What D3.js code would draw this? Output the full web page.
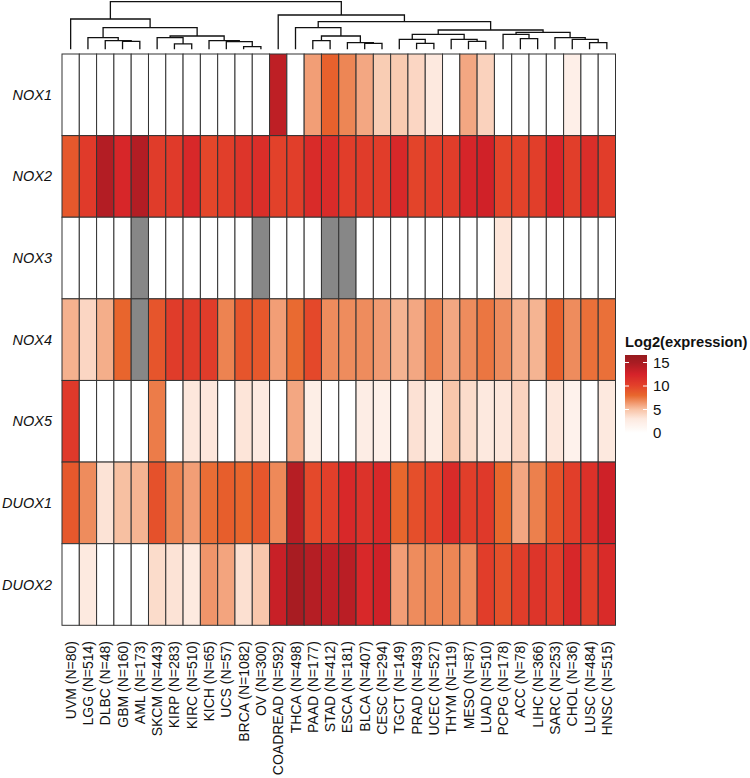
<!DOCTYPE html>
<html>
<head>
<meta charset="utf-8">
<script src="https://cdn.jsdelivr.net/npm/d3@7"></script>
<style>
  html, body { margin: 0; padding: 0; background: #fff; }
  svg { display: block; }
  text { font-family: Arial, "Liberation Sans", Helvetica, sans-serif; }
</style>
</head>
<body>
<svg id="chart" width="750" height="778"></svg>
<script>
// ---------------- DATA ----------------
const cancers = ["UVM","LGG","DLBC","GBM","AML","SKCM","KIRP","KIRC","KICH","UCS","BRCA","OV",
  "COADREAD","THCA","PAAD","STAD","ESCA","BLCA","CESC","TGCT","PRAD","UCEC","THYM","MESO",
  "LUAD","PCPG","ACC","LIHC","SARC","CHOL","LUSC","HNSC"];
const sampleN = [80,514,48,160,173,443,283,510,65,57,1082,300,
  592,498,177,412,181,407,294,149,493,527,119,87,
  510,178,78,366,253,36,484,515];
const genes = ["NOX1","NOX2","NOX3","NOX4","NOX5","DUOX1","DUOX2"];

// log2 expression per gene, in column order above (null = NA)
const NOX1 = [0,0,0,0,0,0,0,0,0,0,0,0, 13.8,0,6.2,8.3,7.0,5.9,4.5,4.6,4.0,3.0,0,5.9, 4.2,0,0,0,0,2.2,0,0];
const NOX2 = [8.8,10.6,14.4,12.2,14.4,10.5,10.6,12.0,9.8,10.3,11.0,11.6, 10.1,10.3,11.8,11.8,10.4,10.5,10.4,12.0,9.9,10.3,10.4,12.3, 12.8,9.9,10.0,10.3,12.2,10.3,11.6,10.4];
const NOX3 = [0,0,0,0,null,0,0,0,0,0,0,null, 0,0,0,null,null,0,0,0,0,0,0,0, 0,3.2,0,0,0,0,0,0];
const NOX4 = [5.6,4.0,5.7,8.1,null,9.0,10.5,10.5,10.5,7.1,9.0,8.8, 6.2,7.9,9.7,6.8,6.8,6.8,6.3,5.5,5.9,7.1,5.9,6.8, 7.5,6.8,5.5,5.5,8.3,6.8,7.7,7.7];
const NOX5 = [10.7,0,0,0,0,7.3,0,3.1,3.1,0,3.2,2.8, 0,5.9,2.3,0,0,2.4,2.1,0,3.4,2.5,4.8,3.7, 3.0,3.1,4.1,0,3.1,1.8,0,3.0];
const DUOX1 = [8.8,6.8,3.3,5.1,5.5,9.2,7.1,6.2,7.8,8.5,8.1,8.9, 6.9,14.2,9.6,10.2,12.0,11.2,12.0,8.0,9.3,10.0,11.8,10.3, 10.7,8.0,5.9,7.2,9.1,10.3,11.3,12.9];
const DUOX2 = [0,2.9,0,0,0,3.7,3.3,2.9,6.5,6.0,3.5,4.8, 13.2,15.0,14.3,13.7,14.0,12.0,12.8,6.2,6.8,7.0,7.0,6.8, 10.4,9.2,10.4,11.0,10.3,12.1,10.3,11.8];
const geneValues = [NOX1, NOX2, NOX3, NOX4, NOX5, DUOX1, DUOX2];

// column dendrogram: [left, right, height]; strings = leaves, numbers = earlier merges
const merges = [
  ["GBM","AML",24],      // 0
  ["DLBC",0,26],         // 1
  ["LGG",1,35],          // 2
  ["KIRP","KIRC",16],    // 3
  ["SKCM",3,35],         // 4
  ["BRCA","OV",8],       // 5
  ["UCS",5,23],          // 6
  ["KICH",6,26],         // 7
  [4,7,40],              // 8
  [2,8,65],              // 9
  ["UVM",9,91],          // 10
  ["PAAD","STAD",26],    // 11
  ["BLCA","CESC",18],    // 12
  ["ESCA",12,20],        // 13
  [11,13,40],            // 14
  ["THCA",14,65],        // 15
  ["PRAD","UCEC",18],    // 16
  ["TGCT",16,30],        // 17
  ["MESO","LUAD",24],    // 18
  ["THYM",18,30],        // 19
  [17,19,45],            // 20
  ["ACC","LIHC",32],     // 21
  ["PCPG",21,45],        // 22
  ["LUSC","HNSC",20],    // 23
  ["CHOL",23,30],        // 24
  ["SARC",24,35],        // 25
  [22,25,51],            // 26
  [20,26,58],            // 27
  [15,27,83],            // 28
  ["COADREAD",28,103],   // 29
  [10,29,143]            // 30
];

// colour legend
const legendTicks = [0,5,10,15];
const colorStops = [0, 3, 5, 8, 10, 12.5, 15, 16.6];
const colorRange = ["#ffffff","#fde9df","#f8c3a6","#e8672d","#e3422a","#d52229","#a81c22","#961a1e"];

// ---------------- DRAW ----------------
const svg = d3.select("#chart");
const hmLeft = 62, hmRight = 615.5, hmTop = 54, hmBottom = 625.3;

const x = d3.scaleBand().domain(cancers).range([hmLeft, hmRight]);
const y = d3.scaleBand().domain(genes).range([hmTop, hmBottom]);
const color = d3.scaleLinear().domain(colorStops).range(colorRange).clamp(true);
const naColor = "#878787";

// cells
const cells = [];
genes.forEach((g, gi) => cancers.forEach((c, ci) => cells.push({g, c, v: geneValues[gi][ci]})));
svg.append("g").selectAll("rect").data(cells).join("rect")
  .attr("x", d => x(d.c)).attr("y", d => y(d.g))
  .attr("width", x.bandwidth()).attr("height", y.bandwidth())
  .attr("fill", d => d.v == null ? naColor : color(d.v))
  .attr("stroke", "#333").attr("stroke-width", 1);

// row labels
svg.append("g").selectAll("text").data(genes).join("text")
  .attr("x", 52).attr("y", d => y(d) + y.bandwidth() / 2)
  .attr("dy", "0.35em").attr("text-anchor", "end")
  .attr("font-size", 14.5).attr("font-style", "italic").attr("fill", "#111")
  .text(d => d);

// column labels
svg.append("g").selectAll("text").data(cancers).join("text")
  .attr("transform", d => `translate(${x(d) + x.bandwidth() / 2},641) rotate(-90)`)
  .attr("dy", "0.36em").attr("text-anchor", "end")
  .attr("font-size", 14).attr("fill", "#111")
  .text((d, i) => `${d} (N=${sampleN[i]})`);

// dendrogram
const maxH = d3.max(merges, m => m[2]);
const dy = d3.scaleLinear().domain([0, maxH]).range([49.3, 1.7]);
const nodes = [];
function nodeInfo(ref) {
  if (typeof ref === "string") return {x: x(ref) + x.bandwidth() / 2, h: 0};
  return nodes[ref];
}
const dendG = svg.append("g").attr("fill", "none").attr("stroke", "#111").attr("stroke-width", 1.3);
merges.forEach(m => {
  const a = nodeInfo(m[0]), b = nodeInfo(m[1]);
  nodes.push({x: (a.x + b.x) / 2, h: m[2]});
  dendG.append("path")
    .attr("d", `M${a.x},${dy(a.h)}V${dy(m[2])}H${b.x}V${dy(b.h)}`);
});

// legend
const lgX = 625, lgW = 22;
const ly = d3.scaleLinear().domain([0, 16.6]).range([433, 355]);
svg.append("text").attr("x", lgX).attr("y", 347)
  .attr("font-size", 14.7).attr("font-weight", "bold").attr("fill", "#111")
  .text("Log2(expression)");
const defs = svg.append("defs");
const grad = defs.append("linearGradient").attr("id", "lg")
  .attr("x1", 0).attr("y1", 1).attr("x2", 0).attr("y2", 0);
d3.range(0, 16.61, 0.2).forEach(v => {
  grad.append("stop").attr("offset", v / 16.6).attr("stop-color", color(v));
});
svg.append("rect").attr("x", lgX).attr("y", ly(16.6)).attr("width", lgW)
  .attr("height", ly(0) - ly(16.6)).attr("fill", "url(#lg)");
const tg = svg.append("g");
legendTicks.forEach(t => {
  if (t > 0) {
    tg.append("line").attr("x1", lgX).attr("x2", lgX + 4).attr("y1", ly(t)).attr("y2", ly(t))
      .attr("stroke", "#fff").attr("stroke-width", 1);
    tg.append("line").attr("x1", lgX + lgW - 4).attr("x2", lgX + lgW).attr("y1", ly(t)).attr("y2", ly(t))
      .attr("stroke", "#fff").attr("stroke-width", 1);
  }
  tg.append("text").attr("x", lgX + 28).attr("y", ly(t)).attr("dy", "0.35em")
    .attr("font-size", 15).attr("fill", "#111").text(t);
});
</script>
</body>
</html>
